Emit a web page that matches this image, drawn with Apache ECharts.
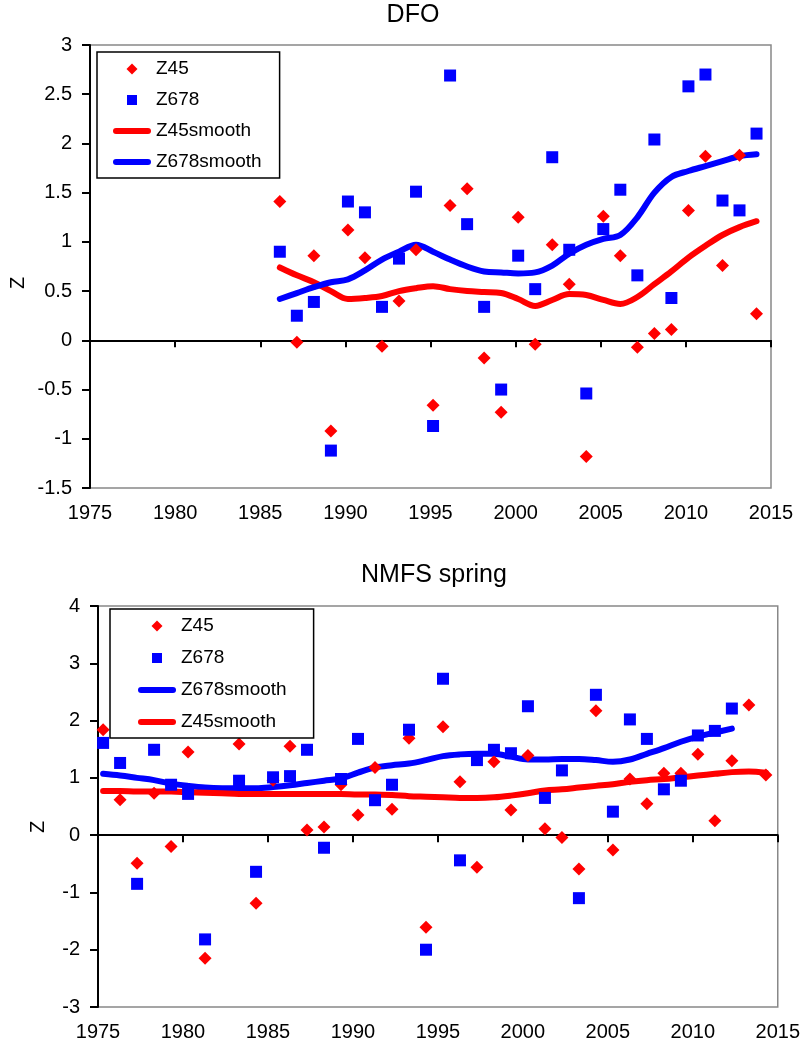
<!DOCTYPE html>
<html>
<head>
<meta charset="utf-8">
<script src="https://cdn.jsdelivr.net/npm/echarts@6/dist/echarts.min.js"></script>
<style>
  html, body { margin: 0; padding: 0; background: #fff; }
  #chart { width: 803px; height: 1042px; }
</style>
</head>
<body>
<div id="chart"></div>
<script>
// ---- DFO survey (Z scores by year) ----
const dfoYears = [1986, 1987, 1988, 1989, 1990, 1991, 1992, 1993, 1994, 1995,
                  1996, 1997, 1998, 1999, 2000, 2001, 2002, 2003, 2004, 2005,
                  2006, 2007, 2008, 2009, 2010, 2011, 2012, 2013, 2014];
const dfoZ45 = [1.41, -0.02, 0.86, -0.92, 1.12, 0.84, -0.06, 0.40, 0.92, -0.66,
                1.37, 1.54, -0.18, -0.73, 1.25, -0.04, 0.97, 0.57, -1.18, 1.26,
                0.86, -0.07, 0.07, 0.11, 1.32, 1.87, 0.76, 1.88, 0.27];
const dfoZ678 = [0.90, 0.25, 0.39, -1.12, 1.41, 1.30, 0.34, 0.83, 1.51, -0.87,
                 2.69, 1.18, 0.34, -0.50, 0.86, 0.52, 1.86, 0.92, -0.54, 1.13,
                 1.53, 0.66, 2.04, 0.43, 2.58, 2.70, 1.42, 1.32, 2.10];
const dfoZ45Smooth = [0.74, 0.66, 0.59, 0.50, 0.42, 0.43, 0.45, 0.50, 0.53, 0.55,
                      0.52, 0.50, 0.49, 0.48, 0.42, 0.35, 0.41, 0.47, 0.46, 0.41,
                      0.37, 0.44, 0.57, 0.70, 0.84, 0.96, 1.07, 1.15, 1.21];
const dfoZ678Smooth = [0.42, 0.48, 0.54, 0.59, 0.62, 0.71, 0.82, 0.90, 0.97, 0.90,
                       0.82, 0.75, 0.70, 0.69, 0.68, 0.69, 0.76, 0.88, 0.97, 1.03,
                       1.07, 1.25, 1.50, 1.66, 1.72, 1.77, 1.82, 1.87, 1.89];

// ---- NMFS spring survey ----
const nmfsYears = [1975, 1976, 1977, 1978, 1979, 1980, 1981, 1982, 1983, 1984,
                   1985, 1986, 1987, 1988, 1989, 1990, 1991, 1992, 1993, 1994,
                   1995, 1996, 1997, 1998, 1999, 2000, 2001, 2002, 2003, 2004,
                   2005, 2006, 2007, 2008, 2009, 2010, 2011, 2012, 2013, 2014];
const nmfsZ45 = [1.84, 0.62, -0.49, 0.73, -0.20, 1.45, -2.15, null, 1.59, -1.19,
                 0.96, 1.55, 0.09, 0.14, 0.88, 0.35, 1.18, 0.45, 1.69, -1.61,
                 1.89, 0.93, -0.56, 1.28, 0.44, 1.39, 0.11, -0.04, -0.59, 2.17,
                 -0.26, 0.98, 0.55, 1.08, 1.08, 1.41, 0.25, 1.30, 2.27, 1.05];
const nmfsZ678 = [1.61, 1.26, -0.85, 1.49, 0.88, 0.72, -1.82, null, 0.95, -0.64,
                  1.01, 1.03, 1.49, -0.22, 0.98, 1.68, 0.61, 0.88, 1.84, -2.00,
                  2.73, -0.44, 1.31, 1.49, 1.43, 2.25, 0.65, 1.13, -1.10, 2.45,
                  0.41, 2.02, 1.68, 0.80, 0.95, 1.74, 1.82, 2.21, null, null];
const nmfsZ45Smooth = [0.77, 0.77, 0.76, 0.76, 0.76, 0.75, 0.74, 0.73, 0.72, 0.72,
                       0.72, 0.72, 0.72, 0.72, 0.72, 0.71, 0.71, 0.70, 0.68, 0.67,
                       0.66, 0.65, 0.65, 0.66, 0.69, 0.73, 0.78, 0.80, 0.83, 0.86,
                       0.89, 0.93, 0.96, 0.98, 1.01, 1.04, 1.07, 1.10, 1.11, 1.09];
const nmfsZ678Smooth = [1.07, 1.04, 1.00, 0.96, 0.90, 0.86, 0.83, 0.82, 0.82, 0.82,
                        0.84, 0.87, 0.91, 0.95, 0.99, 1.09, 1.18, 1.22, 1.25, 1.31,
                        1.38, 1.41, 1.42, 1.42, 1.37, 1.32, 1.32, 1.33, 1.33, 1.31,
                        1.28, 1.32, 1.42, 1.52, 1.63, 1.72, 1.79, 1.86, null, null];

// Fraction of the year at which each survey takes place (winter vs. spring)
const dfoSurveyTime = 0.15;
const nmfsSurveyTime = 0.3;

// Axis ranges and tick steps
const yearTicks = { min: 1975, max: 2015, interval: 5 };
const dfoZTicks = { min: -1.5, max: 3, interval: 0.5 };
const nmfsZTicks = { min: -3, max: 4, interval: 1 };

const RED = '#ff0000';
const BLUE = '#0000ff';
const FONT = "'Liberation Sans', Arial, sans-serif";

// Legend icons drawn inside a 38 x 11 box so they keep their proportions
const ICON_W = 38, ICON_H = 11;
const ICON_DIAMOND = 'path://M0,0 M38,11 M19,-0.5 L25,5.5 L19,11.5 L13,5.5 Z';
const ICON_SQUARE = 'path://M0,0 M38,11 M14,0.5 L24,0.5 L24,10.5 L14,10.5 Z';
const ICON_LINE = 'path://M0,0 M38,11 M3,2.5 L35,2.5 A3,3 0 0 1 35,8.5 L3,8.5 A3,3 0 0 1 3,2.5 Z';
const legendIcons = { Z45: ICON_DIAMOND, Z678: ICON_SQUARE, Z45smooth: ICON_LINE, Z678smooth: ICON_LINE };

function pairs(years, values, shift) {
  const out = [];
  years.forEach((y, i) => { if (values[i] != null) out.push([y + shift, values[i]]); });
  return out;
}

function xAxisFor(gridIndex) {
  return {
    type: 'value', gridIndex,
    min: yearTicks.min, max: yearTicks.max, interval: yearTicks.interval,
    axisLine: { show: true, onZero: true, lineStyle: { color: '#000', width: 2 } },
    axisTick: { show: true, length: 7, lineStyle: { color: '#000', width: 2 } },
    axisLabel: { color: '#000', fontSize: 20, fontFamily: FONT, margin: 15,
                 showMinLabel: true, showMaxLabel: true,
                 formatter: v => String(v) },
    splitLine: { show: false }
  };
}
function yAxisFor(gridIndex, t) {
  return {
    type: 'value', gridIndex,
    min: t.min, max: t.max, interval: t.interval,
    axisLine: { show: true, onZero: false, lineStyle: { color: '#000', width: 2 } },
    axisTick: { show: true, length: 8, lineStyle: { color: '#000', width: 2 } },
    axisLabel: { color: '#000', fontSize: 20, fontFamily: FONT, margin: 18,
                 formatter: v => String(v) },
    splitLine: { show: false }
  };
}
function scatter(name, idx, data, symbol, size, color, z) {
  return { name, type: 'scatter', xAxisIndex: idx, yAxisIndex: idx, data,
           symbol, symbolSize: size, itemStyle: { color, opacity: 1 }, z, silent: true };
}
function smoothLine(name, idx, data, color) {
  return { name, type: 'line', xAxisIndex: idx, yAxisIndex: idx, data,
           symbol: 'none', smooth: 0.35, connectNulls: false,
           lineStyle: { color, width: 6, cap: 'round', join: 'round' },
           itemStyle: { color }, z: 2, silent: true };
}
function legendFor(left, top, padding, order, gap) {
  return {
    orient: 'vertical', left, top, padding, itemGap: gap,
    itemWidth: ICON_W, itemHeight: ICON_H, symbolKeepAspect: true,
    data: order.map(name => ({ name, icon: legendIcons[name] })),
    selectedMode: false,
    borderColor: '#000', borderWidth: 1.5, backgroundColor: '#fff',
    textStyle: { color: '#000', fontSize: 19, fontFamily: FONT, lineHeight: 20 }
  };
}

const chart = echarts.init(document.getElementById('chart'), null, { renderer: 'canvas' });

chart.setOption({
  animation: false,
  backgroundColor: '#fff',
  title: [
    { text: 'DFO', left: 413, top: 3, padding: 0, textAlign: 'center',
      textStyle: { fontSize: 25, fontWeight: 'normal', color: '#000', fontFamily: FONT } },
    { text: 'NMFS spring', left: 434, top: 563, padding: 0, textAlign: 'center',
      textStyle: { fontSize: 25, fontWeight: 'normal', color: '#000', fontFamily: FONT } }
  ],
  grid: [
    { left: 90, top: 45, width: 681, height: 443, show: true,
      borderColor: '#888', borderWidth: 1.5, backgroundColor: 'transparent' },
    { left: 98, top: 606, width: 680, height: 425, show: true,
      borderColor: '#888', borderWidth: 1.5, backgroundColor: 'transparent' }
  ],
  xAxis: [xAxisFor(0), xAxisFor(1)],
  yAxis: [yAxisFor(0, dfoZTicks), yAxisFor(1, nmfsZTicks)],
  legend: [
    legendFor(97, 52, [7, 18, 6, 16], ['Z45', 'Z678', 'Z45smooth', 'Z678smooth'], 11),
    legendFor(110, 609, [7, 27, 6, 28], ['Z45', 'Z678', 'Z678smooth', 'Z45smooth'], 12)
  ],
  graphic: [
    { type: 'text', x: 18, y: 283, rotation: Math.PI / 2,
      style: { text: 'Z', fontSize: 20, fontFamily: FONT, fill: '#000',
               align: 'center', verticalAlign: 'middle' } },
    { type: 'text', x: 38, y: 827, rotation: Math.PI / 2,
      style: { text: 'Z', fontSize: 20, fontFamily: FONT, fill: '#000',
               align: 'center', verticalAlign: 'middle' } }
  ],
  series: [
    smoothLine('Z45smooth', 0, pairs(dfoYears, dfoZ45Smooth, dfoSurveyTime), RED),
    smoothLine('Z678smooth', 0, pairs(dfoYears, dfoZ678Smooth, dfoSurveyTime), BLUE),
    scatter('Z45', 0, pairs(dfoYears, dfoZ45, dfoSurveyTime), 'diamond', 13, RED, 3),
    scatter('Z678', 0, pairs(dfoYears, dfoZ678, dfoSurveyTime), 'rect', 12, BLUE, 4),

    smoothLine('Z678smooth', 1, pairs(nmfsYears, nmfsZ678Smooth, nmfsSurveyTime), BLUE),
    smoothLine('Z45smooth', 1, pairs(nmfsYears, nmfsZ45Smooth, nmfsSurveyTime), RED),
    scatter('Z45', 1, pairs(nmfsYears, nmfsZ45, nmfsSurveyTime), 'diamond', 13, RED, 3),
    scatter('Z678', 1, pairs(nmfsYears, nmfsZ678, nmfsSurveyTime), 'rect', 12, BLUE, 4)
  ]
});
</script>
</body>
</html>
